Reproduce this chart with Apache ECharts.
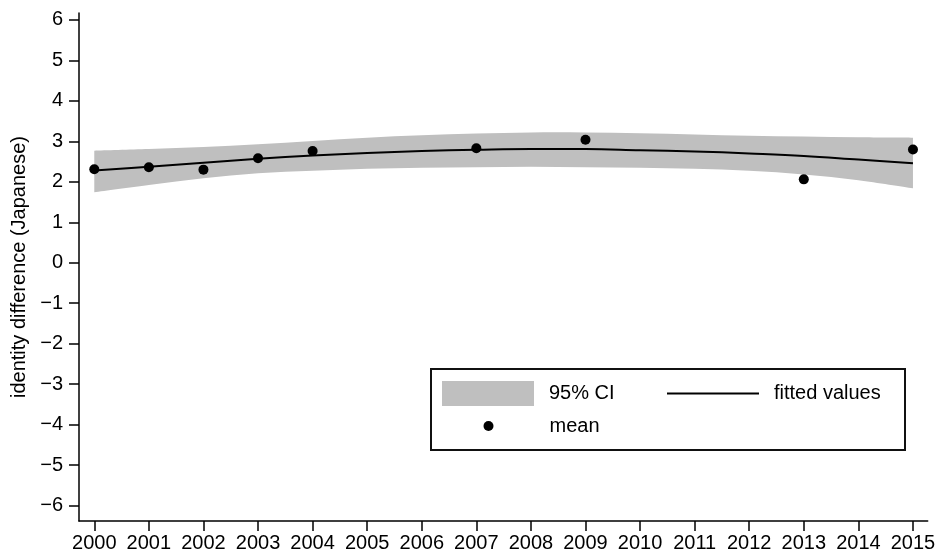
<!DOCTYPE html>
<html>
<head>
<meta charset="utf-8">
<script src="https://cdn.jsdelivr.net/npm/echarts@6/dist/echarts.min.js"></script>
<style>html,body{margin:0;padding:0;background:#fff;}#c{width:943px;height:559px;}</style>
</head>
<body>
<div id="c"></div>
<script>
const years = [2000,2001,2002,2003,2004,2005,2006,2007,2008,2009,2010,2011,2012,2013,2014,2015];
const meanYears = [2000,2001,2002,2003,2004,2007,2009,2013,2015];
const meanValues = [2.31,2.36,2.30,2.58,2.76,2.83,3.04,2.06,2.80];
const fittedValues = [2.28,2.37,2.47,2.57,2.65,2.71,2.76,2.79,2.81,2.81,2.78,2.75,2.70,2.64,2.55,2.46];
const ciUpper = [2.77,2.81,2.86,2.93,3.01,3.09,3.15,3.19,3.22,3.22,3.20,3.17,3.14,3.12,3.10,3.09];
const ciLower = [1.74,1.92,2.09,2.21,2.27,2.32,2.35,2.36,2.37,2.36,2.35,2.32,2.27,2.18,2.04,1.84];
const xTicks = [2000,2001,2002,2003,2004,2005,2006,2007,2008,2009,2010,2011,2012,2013,2014,2015];
const yTicks = [-6,-5,-4,-3,-2,-1,0,1,2,3,4,5,6];

const FONT = 'Liberation Sans, Arial, Helvetica, sans-serif';
const bandData = years.map((y,i)=>[y, ciLower[i], ciUpper[i]]);
const fitData = years.map((y,i)=>[y, fittedValues[i]]);
const meanData = meanYears.map((y,i)=>[y, meanValues[i]]);

function curveSegs(p){
  let d = '';
  for(let i=0;i<p.length-1;i++){
    const p0 = p[Math.max(i-1,0)], p1 = p[i], p2 = p[i+1], p3 = p[Math.min(i+2,p.length-1)];
    const c1x = p1[0] + (p2[0]-p0[0])/6, c1y = p1[1] + (p2[1]-p0[1])/6;
    const c2x = p2[0] - (p3[0]-p1[0])/6, c2y = p2[1] - (p3[1]-p1[1])/6;
    d += ' C' + c1x.toFixed(2)+','+c1y.toFixed(2)+' '+c2x.toFixed(2)+','+c2y.toFixed(2)+' '+p2[0].toFixed(2)+','+p2[1].toFixed(2);
  }
  return d;
}

function renderBand(params, api){
  if(params.dataIndex !== 0) return null;
  const up = bandData.map(d=>api.coord([d[0], d[2]]));
  const lo = bandData.map(d=>api.coord([d[0], d[1]])).reverse();
  let path = 'M' + up[0][0].toFixed(2)+','+up[0][1].toFixed(2) + curveSegs(up);
  path += ' L' + lo[0][0].toFixed(2)+','+lo[0][1].toFixed(2) + curveSegs(lo) + ' Z';
  return {type:'path', shape:{pathData:path}, style:{fill:'#bfbfbf', stroke:null}};
}

const chart = echarts.init(document.getElementById('c'), null, {renderer:'canvas'});
chart.setOption({
  animation:false,
  backgroundColor:'#fff',
  textStyle:{fontFamily:FONT},
  grid:{left:79, right:15.3, top:13, bottom:38},
  xAxis:{
    type:'value', min:1999.72, max:2015.27, z:10,
    axisLine:{show:true, onZero:false, lineStyle:{color:'#000', width:1.5}},
    axisTick:{show:true, length:10, customValues:xTicks, lineStyle:{color:'#000', width:1.5}},
    axisLabel:{customValues:xTicks, color:'#000', fontSize:20, fontFamily:FONT, margin:12, formatter:v=>String(v)},
    splitLine:{show:false}
  },
  yAxis:{
    type:'value', min:-6.38, max:6.17, z:10,
    name:'identity difference (Japanese)', nameLocation:'middle', nameGap:48,
    nameTextStyle:{color:'#000', fontSize:20, fontFamily:FONT},
    axisLine:{show:true, onZero:false, lineStyle:{color:'#000', width:1.5}},
    axisTick:{show:true, length:10, customValues:yTicks, lineStyle:{color:'#000', width:1.5}},
    axisLabel:{customValues:yTicks, color:'#000', fontSize:20, fontFamily:FONT, margin:16,
      formatter:v=> v<0 ? '\u2212'+Math.abs(v) : String(v)},
    splitLine:{show:false}
  },
  legend:[
    {left:442, top:381, padding:0, itemWidth:92, itemHeight:25, selectedMode:false, z:20,
     textStyle:{fontSize:20, color:'#000', fontFamily:FONT, padding:[0,0,0,10]},
     data:[{name:'95% CI', icon:'rect', itemStyle:{color:'#bfbfbf', borderWidth:0}}]},
    {left:667, top:383.5, padding:0, itemWidth:92, itemHeight:2, selectedMode:false, z:20,
     textStyle:{fontSize:20, color:'#000', fontFamily:FONT, padding:[0,0,0,10]},
     data:[{name:'fitted values', icon:'rect', itemStyle:{color:'#000', borderWidth:0}}]},
    {left:483.5, top:416, padding:0, itemWidth:10, itemHeight:10, selectedMode:false, z:20,
     textStyle:{fontSize:20, color:'#000', fontFamily:FONT, padding:[0,0,0,51]},
     data:[{name:'mean', icon:'circle', itemStyle:{color:'#000', opacity:1}}]}
  ],
  graphic:[{
    type:'rect', silent:true, z:100,
    shape:{x:431, y:369, width:474, height:81},
    style:{fill:null, stroke:'#111', lineWidth:2}
  }],
  series:[
    {name:'95% CI', type:'custom', data:bandData, renderItem:renderBand,
     encode:{x:0, y:[1,2]}, itemStyle:{color:'#bfbfbf'}, z:1, silent:true, clip:false},
    {name:'fitted values', type:'line', data:fitData, symbol:'none', smooth:0.4,
     lineStyle:{color:'#000', width:2}, itemStyle:{color:'#000'}, z:3},
    {name:'mean', type:'scatter', data:meanData, symbol:'circle', symbolSize:10,
     itemStyle:{color:'#000', opacity:1}, z:4}
  ]
});
</script>
</body>
</html>
